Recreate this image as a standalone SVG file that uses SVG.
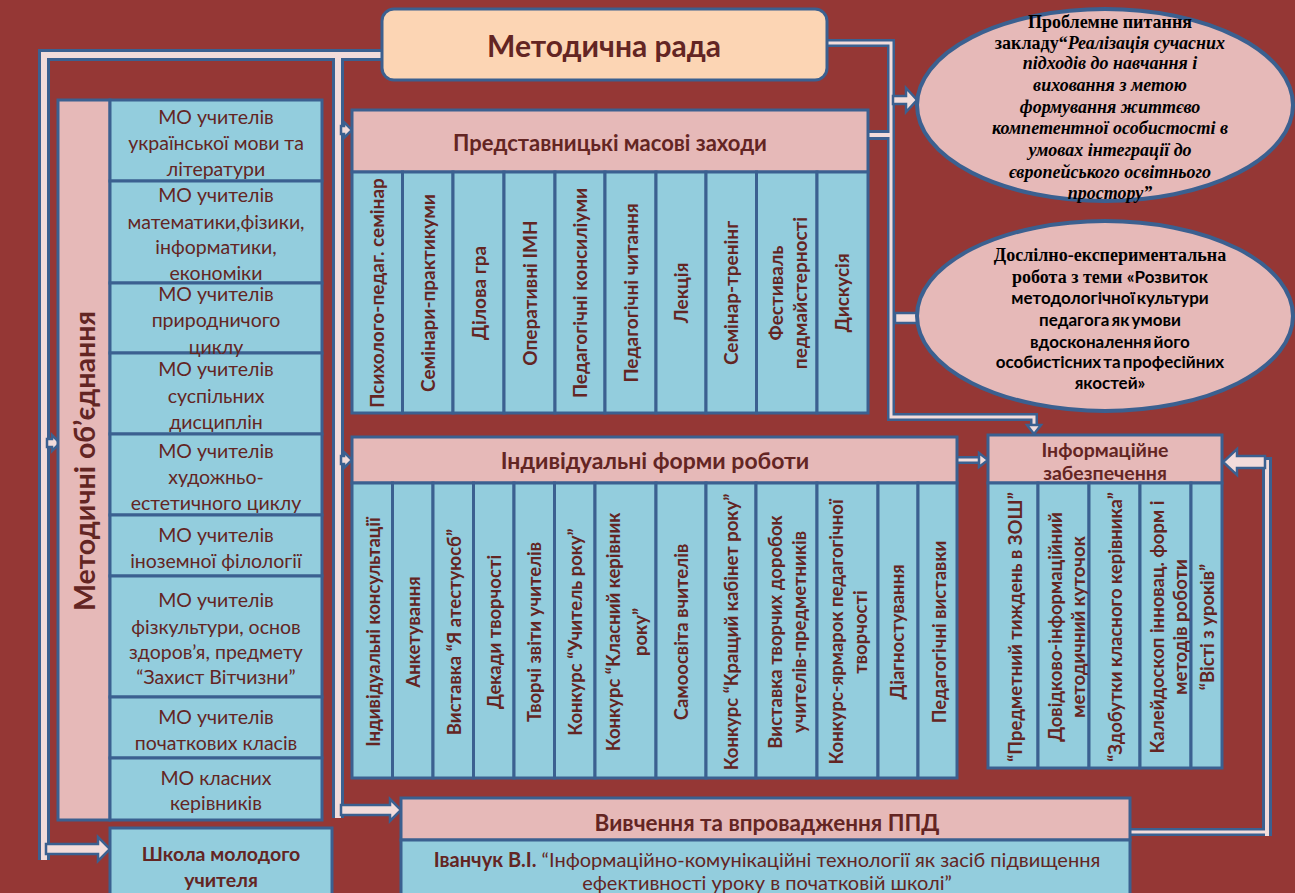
<svg xmlns="http://www.w3.org/2000/svg" width="1295" height="893" viewBox="0 0 1295 893">
<defs>
<style>
.bx{stroke:#3B6090;stroke-width:3}
.bl{fill:#93CDDD}
.pk{fill:#E6B9B8}
.t{fill:#632523;font-family:Lato,"Noto Sans",sans-serif}
.b{font-weight:bold}
.c{text-anchor:middle}
.bo{fill:none;stroke:#3B6090;stroke-linejoin:miter}
.bi{fill:none;stroke:#F2DCDB;stroke-linejoin:miter}
.ar{fill:#F2DCDB;stroke:#3B6090;stroke-width:2.5;stroke-linejoin:miter}
.e{fill:#E6B9B8;stroke:#3B6090;stroke-width:4}
.et{fill:#000;font-family:"Liberation Serif",serif;font-weight:bold;text-anchor:middle}
.es{fill:#000;font-family:Lato,"Noto Sans",sans-serif;font-weight:bold;text-anchor:middle}
.v{font-weight:bold;text-anchor:middle}
</style>
</defs>
<rect width="1295" height="893" fill="#953735"/>

<g id="connectors">
<path class="bo" stroke-width="12" d="M44,860 V55 H384"/>
<path class="bo" stroke-width="12" d="M338,55 V818"/>
<path class="bo" stroke-width="8" d="M826,43 H891 V417 H1034 V428"/>
<path class="bo" stroke-width="10" d="M866,135 H891"/>
<path class="bo" stroke-width="8" d="M955,460 H982"/>
<path class="bo" stroke-width="8" d="M1128,832 H1267"/>
<path class="bo" stroke-width="10" d="M1267,836 V462 H1236"/>
<path class="bi" stroke-width="6" d="M44,860 V55 H384"/>
<path class="bi" stroke-width="6" d="M338,55 V818"/>
<path class="bi" stroke-width="3" d="M826,43 H891 V417 H1034 V428"/>
<path class="bi" stroke-width="4" d="M866,135 H891"/>
<path class="bi" stroke-width="3" d="M955,460 H982"/>
<path class="bi" stroke-width="3" d="M1128,832 H1267"/>
<path class="bi" stroke-width="4" d="M1267,836 V462 H1236"/>
<path class="ar" d="M47,439 H52 V435 L60,443 L52,451 V447 H47 Z"/>
<path class="ar" d="M46,844 H98 V837 L110,849 L98,861 V854 H46 Z"/>
<path class="ar" d="M341,126 H344 V122 L352,130 L344,138 V134 H341 Z"/>
<path class="ar" d="M341,456 H344 V452 L352,460 L344,468 V464 H341 Z"/>
<path class="ar" d="M341,805 H390 V799 L401,810 L390,821 V815 H341 Z"/>
<path class="ar" d="M893,96 H906 V88 L917,100 L906,112 V104 H893 Z"/>
<path class="ar" d="M1265,456 H1237 V449 L1223,462 L1237,475 V468 H1265 Z"/>
<rect class="ar" x="895" y="313" width="23" height="10"/>
<path class="ar" d="M1027,425 H1041 L1034,434 Z"/>
<path class="ar" d="M979,453 L988,460 L979,467 Z"/>
</g>

<g id="metod-rada">
<rect x="382" y="9" width="445" height="71" rx="12" fill="#FCD5B4" class="bx"/>
<text x="604" y="57" class="t b c" font-size="30">Методична рада</text>
</g>

<g id="mo">
<rect x="58" y="100" width="52" height="720" class="pk bx"/>
<text transform="translate(95,461) rotate(-90)" class="t b c" font-size="28.5">Методичні об’єднання</text>
<g class="bl bx">
<rect x="110" y="100" width="212" height="81"/>
<rect x="110" y="181" width="212" height="102"/>
<rect x="110" y="283" width="212" height="70"/>
<rect x="110" y="353" width="212" height="81"/>
<rect x="110" y="434" width="212" height="81"/>
<rect x="110" y="515" width="212" height="61"/>
<rect x="110" y="576" width="212" height="121"/>
<rect x="110" y="697" width="212" height="61"/>
<rect x="110" y="758" width="212" height="62"/>
</g>
<g class="t c" font-size="19.5">
<text x="216" y="124">МО учителів</text>
<text x="216" y="150">української мови та</text>
<text x="216" y="176">літератури</text>
<text x="216" y="202">МО учителів</text>
<text x="216" y="229">математики,фізики,</text>
<text x="216" y="254">інформатики,</text>
<text x="216" y="280">економіки</text>
<text x="216" y="301">МО учителів</text>
<text x="216" y="327">природничого</text>
<text x="216" y="354">циклу</text>
<text x="216" y="376">МО учителів</text>
<text x="216" y="403">суспільних</text>
<text x="216" y="429">дисциплін</text>
<text x="216" y="458">МО учителів</text>
<text x="216" y="484">художньо-</text>
<text x="216" y="510">естетичного циклу</text>
<text x="216" y="542">МО учителів</text>
<text x="216" y="568">іноземної філології</text>
<text x="216" y="607">МО учителів</text>
<text x="216" y="634">фізкультури, основ</text>
<text x="216" y="659">здоров’я, предмету</text>
<text x="216" y="684">“Захист Вітчизни”</text>
<text x="216" y="724">МО учителів</text>
<text x="216" y="750">початкових класів</text>
<text x="216" y="785">МО класних</text>
<text x="216" y="810">керівників</text>
</g>
</g>

<g id="shkola">
<rect x="110" y="828" width="222" height="80" class="bl bx"/>
<text x="221" y="861" class="t b c" font-size="19.5">Школа молодого</text>
<text x="221" y="887" class="t b c" font-size="19.5">учителя</text>
</g>

<g id="predstavnytski">
<rect x="352" y="110" width="516" height="62" class="pk bx"/>
<text x="610" y="151" class="t b c" font-size="22">Представницькі масові заходи</text>
<g class="bl bx">
<rect x="352" y="172" width="50.5" height="241"/>
<rect x="402.5" y="172" width="50.5" height="241"/>
<rect x="453" y="172" width="51" height="241"/>
<rect x="504" y="172" width="51" height="241"/>
<rect x="555" y="172" width="50" height="241"/>
<rect x="605" y="172" width="51" height="241"/>
<rect x="656" y="172" width="50" height="241"/>
<rect x="706" y="172" width="50.5" height="241"/>
<rect x="756.5" y="172" width="60.5" height="241"/>
<rect x="817" y="172" width="51" height="241"/>
</g>
<g class="t v" font-size="19">
<text transform="translate(384,293) rotate(-90)">Психолого-педаг. семінар</text>
<text transform="translate(435,293) rotate(-90)">Семінари-практикуми</text>
<text transform="translate(485.5,293) rotate(-90)">Ділова гра</text>
<text transform="translate(536.5,293) rotate(-90)">Оперативні ІМН</text>
<text transform="translate(587,293) rotate(-90)">Педагогічні консиліуми</text>
<text transform="translate(637.5,293) rotate(-90)">Педагогічні читання</text>
<text transform="translate(688,293) rotate(-90)">Лекція</text>
<text transform="translate(738,293) rotate(-90)">Семінар-тренінг</text>
<text transform="translate(783,293) rotate(-90)"><tspan x="0" y="0">Фестиваль</tspan><tspan x="0" y="24">педмайстерності</tspan></text>
<text transform="translate(849,293) rotate(-90)">Дискусія</text>
</g>
</g>

<g id="indyvidualni">
<rect x="352" y="437" width="605" height="46" class="pk bx"/>
<text x="655" y="469" class="t b c" font-size="23">Індивідуальні форми роботи</text>
<g class="bl bx">
<rect x="352" y="483" width="40.5" height="295"/>
<rect x="392.5" y="483" width="40.5" height="295"/>
<rect x="433" y="483" width="40.5" height="295"/>
<rect x="473.5" y="483" width="40.5" height="295"/>
<rect x="514" y="483" width="40.5" height="295"/>
<rect x="554.5" y="483" width="40.5" height="295"/>
<rect x="595" y="483" width="61" height="295"/>
<rect x="656" y="483" width="50" height="295"/>
<rect x="706" y="483" width="50" height="295"/>
<rect x="756" y="483" width="61" height="295"/>
<rect x="817" y="483" width="61" height="295"/>
<rect x="878" y="483" width="40" height="295"/>
<rect x="918" y="483" width="39" height="295"/>
</g>
<g class="t v" font-size="18.5">
<text transform="translate(380,632) rotate(-90)">Індивідуальні консультації</text>
<text transform="translate(419.5,632) rotate(-90)">Анкетування</text>
<text transform="translate(461,632) rotate(-90)">Виставка “Я атестуюсб”</text>
<text transform="translate(500.5,632) rotate(-90)">Декади  творчості</text>
<text transform="translate(541,632) rotate(-90)">Творчі звіти учителів</text>
<text transform="translate(581.5,632) rotate(-90)">Конкурс “Учитель року”</text>
<text transform="translate(619.5,632) rotate(-90)"><tspan x="0" y="0">Конкурс “Класний керівник</tspan><tspan x="0" y="27">року”</tspan></text>
<text transform="translate(687.5,632) rotate(-90)">Самоосвіта вчителів</text>
<text transform="translate(738,632) rotate(-90)">Конкурс “Кращий кабінет року”</text>
<text transform="translate(781.5,632) rotate(-90)"><tspan x="0" y="0">Виставка творчих доробок</tspan><tspan x="0" y="24">учителів-предметників</tspan></text>
<text transform="translate(842.5,632) rotate(-90)"><tspan x="0" y="0">Конкурс-ярмарок педагогічної</tspan><tspan x="0" y="24">творчості</tspan></text>
<text transform="translate(904,632) rotate(-90)">Діагностування</text>
<text transform="translate(945.5,632) rotate(-90)">Педагогічні виставки</text>
</g>
</g>

<g id="info">
<rect x="988" y="435" width="234" height="48" class="pk bx"/>
<text x="1105" y="457" class="t b c" font-size="19.5">Інформаційне</text>
<text x="1105" y="480" class="t b c" font-size="19.5">забезпечення</text>
<g class="bl bx">
<rect x="988" y="483" width="50" height="285"/>
<rect x="1038" y="483" width="51" height="285"/>
<rect x="1089" y="483" width="51" height="285"/>
<rect x="1140" y="483" width="51" height="285"/>
<rect x="1191" y="483" width="31" height="285"/>
</g>
<g class="t v" font-size="18.5">
<text transform="translate(1021.5,627) rotate(-90)">“Предметний тиждень в ЗОШ”</text>
<text transform="translate(1061.5,627) rotate(-90)"><tspan x="0" y="0">Довідково-інформаційний</tspan><tspan x="0" y="23">методичний куточок</tspan></text>
<text transform="translate(1121.5,627) rotate(-90)">“Здобутки класного керівника”</text>
<text transform="translate(1163.5,627) rotate(-90)"><tspan x="0" y="0">Калейдоскоп інновац. форм і</tspan><tspan x="0" y="23">методів роботи</tspan></text>
<text transform="translate(1213.5,627) rotate(-90)">“Вісті з уроків”</text>
</g>
</g>

<g id="ppd">
<rect x="401" y="798" width="729" height="42" class="pk bx"/>
<rect x="401" y="840" width="729" height="70" class="bl bx"/>
<text x="767" y="831" class="t b c" font-size="22.5">Вивчення та впровадження ППД</text>
<text x="767" y="867" class="t c" font-size="20"><tspan font-weight="bold">Іванчук В.І.</tspan> “Інформаційно-комунікаційні технології як засіб підвищення</text>
<text x="767" y="890" class="t c" font-size="20">ефективності уроку в початковій школі”</text>
</g>

<g id="problem">
<ellipse cx="1105" cy="105" rx="188" ry="96" class="e"/>
<g class="et" font-size="18">
<text x="1110" y="28">Проблемне питання</text>
<text x="1110" y="49">закладу“<tspan font-style="italic">Реалізація сучасних</tspan></text>
<text x="1110" y="69" font-style="italic">підходів до навчання і</text>
<text x="1110" y="91" font-style="italic">виховання з метою</text>
<text x="1110" y="113" font-style="italic">формування життєво</text>
<text x="1110" y="134" font-style="italic">компетентної особистості в</text>
<text x="1110" y="156" font-style="italic">умовах інтеграції до</text>
<text x="1110" y="178" font-style="italic">європейського освітнього</text>
<text x="1110" y="199" font-style="italic">простору”</text>
</g>
</g>

<g id="research">
<ellipse cx="1105" cy="316" rx="188" ry="95" class="e"/>
<text x="1110" y="261" class="et" font-size="18">Дослілно-експериментальна</text>
<text x="1110" y="283" class="et" font-size="18">робота з теми <tspan font-family="Lato,sans-serif" font-size="17">«Розвиток</tspan></text>
<g class="es" font-size="17" word-spacing="-2">
<text x="1110" y="304">методологічної культури</text>
<text x="1110" y="326">педагога як умови</text>
<text x="1110" y="348">вдосконалення його</text>
<text x="1110" y="368">особистісних та професійних</text>
<text x="1110" y="389">якостей»</text>
</g>
</g>
</svg>
